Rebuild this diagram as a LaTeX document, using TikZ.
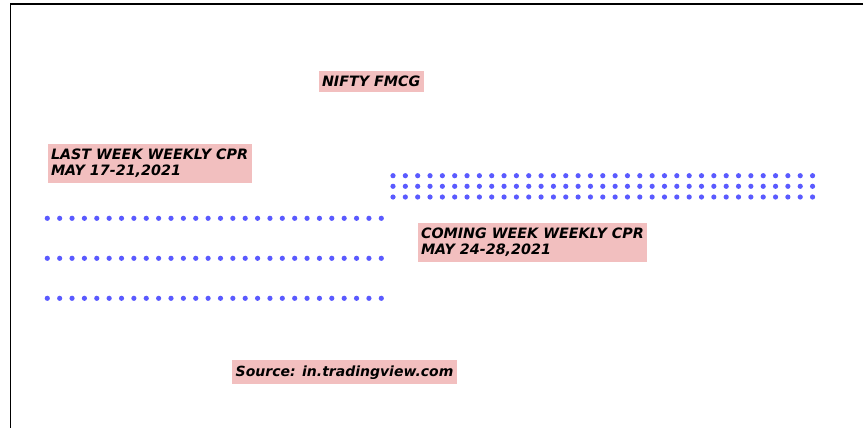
\documentclass[tikz,border=0pt]{standalone}
\usepackage{fontspec}
\setmainfont{DejaVu Sans}
\definecolor{cprpink}{HTML}{F2BFBF}
\definecolor{cprblue}{HTML}{5A5AFF}
\begin{document}
\begin{tikzpicture}[x=1pt, y=-1pt,
    label/.style={fill=cprpink, inner xsep=3.5pt, inner ysep=5.2pt, anchor=north west, align=left,
      font=\fontsize{14.3}{16}\selectfont\bfseries\itshape},
    dot/.style={fill=cprblue}]

    \useasboundingbox (0,0) rectangle (864,428);

    % Frame
    \draw[line width=1.9pt] (863,4) -- (10.5,4) -- (10.5,428);

    % Labels
    \node[label] (title) at (318.3,70.7) {NIFTY FMCG};
    \node[label] (last) at (47.3,143.3) {LAST WEEK WEEKLY CPR\\MAY 17-21,2021};
    \node[label] (coming) at (417.3,222.7) {COMING WEEK WEEKLY CPR\\MAY 24-28,2021};
    \node[label, font=\fontsize{14}{16}\selectfont\bfseries\itshape] (source) at (232,360) {Source: in.tradingview.com};

    % Last week CPR levels
    \foreach \y in {218.3,258.3,298.3}
      \foreach \i in {0,...,27}
        \fill[dot] (47.3+12.37*\i,\y) circle (2.6);

    % Coming week CPR levels
    \foreach \y in {175.7,186.3,197}
      \foreach \i in {0,...,34}
        \fill[dot] (393+12.34*\i,\y) circle (2.6);

\end{tikzpicture}
\end{document}
